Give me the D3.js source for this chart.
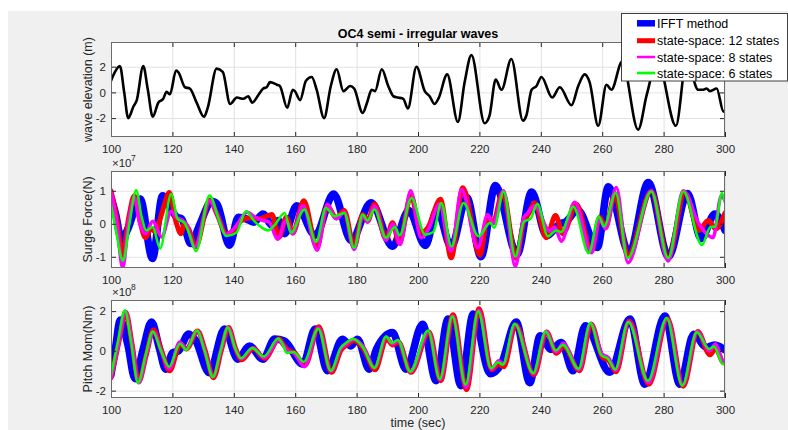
<!DOCTYPE html>
<html>
<head>
<meta charset="utf-8">
<script src="https://cdn.jsdelivr.net/npm/d3@7"></script>
<style>
  html, body { margin: 0; padding: 0; background: #fff; }
  svg { display: block; font-family: "Liberation Sans", Arial, Helvetica, sans-serif; }
  .tick text { fill: #262626; font-size: 11.5px; font-family: "Liberation Sans", Arial, sans-serif; }
  .axis line { stroke: #262626; }
  .grid line { stroke: #e2e2e2; }
  .grid .domain, .axis .domain { display: none; }
  .label { fill: #262626; font-size: 12.5px; }
</style>
</head>
<body>
<div id="chart"></div>
<script>
// time axis and tick labels
const timeTicks = [100, 120, 140, 160, 180, 200, 220, 240, 260, 280, 300];
const waveTicks = [-2, 0, 2];
const surgeTicks = [-1, 0, 1];
const pitchTicks = [-2, 0, 2];
const seriesNames = ["IFFT method", "state-space: 12 states", "state-space: 8 states", "state-space: 6 states"];

// wave elevation (m), [time, value]
const waveElevation = [[100,0.9],[101.3,1.6],[102.9,2.05],[104.3,0],[105.6,-2.0],[107.3,-1.1],[108.4,-0.6],[110.5,2.05],[112.0,0.2],[113.6,-1.9],[115.4,-0.8],[117.0,-0.5],[118.1,0.05],[119.2,-0.15],[121.2,1.7],[122.0,1.55],[124.1,0.4],[125.7,0.3],[127.9,-0.8],[130.3,-1.9],[131.5,-1.2],[134.4,1.85],[136.4,1.6],[138.8,-0.9],[141.0,-0.4],[143.1,-0.5],[144.7,-0.3],[146.0,-0.8],[148.0,-0.2],[149.6,0.3],[150.7,0.4],[151.8,0.8],[154.0,0.6],[155.0,0.5],[157.4,-1.2],[159.2,0.2],[159.9,0.1],[161.6,-0.6],[163.5,0.9],[165.4,1.2],[167.0,0.2],[169.4,-2.0],[171.6,0.5],[173.5,1.8],[175.7,0.1],[177.9,0.5],[179.2,0.3],[182.0,-1.6],[183.4,-0.8],[184.9,0.2],[186.0,0.1],[188.2,1.8],[190.3,0.5],[192.0,-0.3],[193.5,-0.4],[195.2,-0.5],[196.7,-1.25],[199.5,2.0],[202.2,0.1],[203.8,-0.3],[205.4,-0.9],[206.8,-0.4],[209.5,1.4],[213.0,-2.3],[215.2,0.8],[217.4,2.9],[221.7,-2.4],[223.3,-1.8],[225.3,1.0],[227.2,0.2],[230.4,2.6],[234.2,-2.2],[235.3,-1.8],[237.0,0.2],[238.6,0.5],[240.2,1.2],[243.7,-0.4],[246.2,0.4],[250.0,-1.0],[252.2,0.5],[254.3,1.4],[255.9,0.8],[258.7,-2.6],[261.4,0.6],[263.0,0.2],[266.5,2.4],[271.7,-2.9],[274.5,-0.2],[278.0,2.5],[284.0,-2.6],[287.5,2.5],[291.3,0.2],[292.9,0.2],[294.0,0.3],[295.1,0.1],[297.3,0.3],[299.5,-1.5],[300,-1.4]];

// surge force (x1e7 N)
const surgeIFFT = [[100,0.8],[101.5,0.3],[103.5,-0.5],[105.5,-0.15],[109.5,0.75],[113.5,-1.05],[116.8,0.85],[119.5,0.45],[121.5,0.2],[123.0,0.15],[126.0,-0.6],[129.0,0.0],[132.8,0.68],[134.5,0.6],[138.6,-0.65],[141.5,0.2],[144.0,0.15],[146.5,0.05],[149.5,0.3],[152.5,-0.05],[154.5,0.1],[156.5,-0.3],[160.5,0.55],[166.5,-0.35],[172.5,0.9],[178.2,-0.5],[184.7,0.64],[191.7,-0.68],[197.0,0.4],[202.4,-0.66],[206.2,0.42],[210.8,-0.7],[215.9,0.8],[220.5,-1.0],[225.2,1.16],[232.3,-0.92],[237.0,0.96],[241.9,-0.36],[246.2,0.0],[248.0,0.05],[252.0,0.42],[258.4,-0.72],[262.0,1.12],[268.8,-0.88],[275.0,1.25],[281.6,-1.0],[287.8,0.92],[292.2,-0.45],[296.7,0.3],[300,-0.2]];
const surgeSS12 = [[100,1.0],[101.8,0.2],[103.7,-0.95],[105.8,0.2],[107.6,0.85],[109.4,0.1],[111.2,-0.42],[113.0,-0.15],[114.5,-0.25],[116.5,0.3],[119.0,0.95],[121.2,0.05],[122.8,-0.3],[123.9,0.0],[125.5,-0.2],[127.5,-0.7],[132.2,0.72],[134.5,0.3],[137.6,-0.3],[140.0,-0.2],[142.5,0.1],[145.7,0.18],[148.0,0.15],[150.0,0.2],[152.4,0.28],[154.8,-0.4],[157.1,0.2],[159.2,-0.28],[162.8,0.7],[167.0,-0.7],[170.5,0.55],[173.3,0.18],[176.0,0.4],[179.2,-0.7],[182.0,0.28],[183.6,0.08],[185.8,0.6],[189.6,-0.47],[191.7,0.03],[193.9,-0.58],[197.7,0.85],[201.0,-0.27],[203.2,-0.12],[207.3,0.74],[210.8,-1.03],[214.6,1.09],[220.2,-0.95],[222.7,0.2],[224.4,0.03],[227.6,0.95],[232.0,-1.05],[234.5,0.1],[236.0,0.3],[238.0,0.64],[241.8,-0.42],[244.8,0.25],[247.2,-0.3],[251.6,0.59],[256.5,-0.83],[259.2,0.2],[261.1,-0.12],[264.1,0.9],[268.4,-0.98],[276.0,0.99],[281.5,-1.03],[286.9,0.94],[291.5,-0.2],[294.5,0.1],[297.0,-0.15],[300,0.33]];
const surgeSS8 = [[100,1.0],[101.8,0.1],[103.8,-1.33],[105.8,0.1],[107.6,0.8],[109.4,0.0],[111.2,-0.3],[113.6,0.08],[116.5,-0.4],[119.6,0.38],[121.2,0.2],[122.8,0.13],[124.5,0.0],[127.3,-0.7],[132.2,0.7],[134.5,0.3],[137.5,-0.32],[140.5,-0.1],[144.3,0.35],[147.0,0.2],[149.5,0.1],[151.5,0.05],[154.3,-0.47],[157.0,0.1],[159.2,-0.3],[162.5,0.55],[167.2,-0.8],[170.5,0.59],[173.3,0.15],[176.0,0.35],[179.2,-0.78],[182.0,0.25],[183.6,0.05],[185.8,0.54],[189.6,-0.5],[191.7,0.0],[194.2,-0.63],[197.6,1.0],[201.0,-0.42],[203.2,-0.2],[207.0,0.6],[210.8,-0.83],[214.2,1.04],[219.5,-0.73],[222.7,0.28],[224.4,0.0],[227.9,1.0],[231.7,-1.3],[234.5,0.2],[235.5,0.3],[238.0,0.55],[242.9,-0.22],[244.5,-0.1],[246.7,-0.53],[251.0,0.65],[256.5,-0.88],[259.2,0.15],[261.1,-0.15],[264.6,1.1],[268.4,-1.18],[276.0,1.0],[281.5,-1.13],[286.4,1.0],[291.5,0.0],[296.1,-0.42],[298.8,0.85],[300,0.7]];
const surgeSS6 = [[100,0.6],[101.8,-0.3],[103.9,-1.12],[106.0,0.0],[108.2,1.02],[110.0,0.2],[111.5,-0.2],[113.6,-0.1],[116.0,-0.75],[119.6,0.9],[121.7,0.15],[123.9,0.03],[125.5,-0.3],[127.7,-0.83],[132.1,0.86],[135.3,0.08],[137.5,-0.37],[140.8,-0.27],[144.0,0.38],[146.5,0.1],[148.9,-0.1],[151.2,-0.2],[153.2,-0.05],[156.6,0.33],[158.6,-0.27],[163.0,0.43],[166.8,-0.55],[170.0,0.48],[172.8,0.23],[176.0,0.33],[179.2,-0.73],[182.0,0.28],[183.6,0.1],[185.8,0.43],[189.6,-0.42],[192.5,-0.1],[194.0,-0.35],[197.9,0.78],[202.3,-0.33],[205.0,-0.25],[207.6,0.63],[210.9,-0.69],[214.8,0.63],[219.7,-0.38],[223.5,0.03],[224.8,-0.12],[227.9,0.98],[231.7,-0.99],[234.5,0.06],[236.7,0.16],[238.9,0.6],[242.3,-0.38],[245.0,-0.2],[246.6,-0.25],[250.6,0.52],[255.6,-0.89],[258.9,0.22],[260.6,-0.08],[264.4,0.93],[268.3,-1.04],[276.0,0.98],[281.5,-1.04],[286.4,0.98],[292.5,-0.64],[295.2,-0.1],[296.8,-0.08],[299.0,0.93],[300,0.63]];

// pitch moment (x1e8 Nm)
const pitchIFFT = [[100,-1.2],[101.5,0.2],[103.0,1.55],[105.5,0.3],[107.8,-1.4],[110.5,0.1],[113.2,1.45],[115.8,0.1],[117.8,-0.92],[120.0,-0.1],[122.0,0.0],[125.3,0.85],[127.5,0.55],[132.0,-1.1],[137.0,1.1],[141.3,-0.42],[145.1,0.25],[149.5,-0.42],[153.3,0.6],[156.5,0.5],[162.5,-0.67],[166.5,1.1],[170.5,-1.0],[175.4,0.59],[178.0,0.25],[180.3,0.59],[184.1,-0.92],[186.5,0.1],[191.7,0.92],[196.1,-0.92],[201.5,1.34],[205.9,-1.5],[209.8,1.6],[214.0,-1.75],[218.0,1.85],[223.5,-1.15],[227.0,-0.7],[232.0,1.45],[236.4,-1.6],[239.8,0.76],[243.4,0.08],[246.7,0.42],[250.5,-1.0],[254.5,1.26],[262.5,-1.08],[269.0,1.6],[273.9,-1.68],[280.4,1.76],[285.3,-1.68],[289.8,0.84],[294.0,0.17],[296.5,0.3],[300,0.05]];
const pitchSS12 = [[100,-1.35],[102.5,0.4],[104.8,1.95],[106.8,0.4],[109.0,-1.55],[111.5,-0.2],[113.8,1.05],[116.5,0.0],[119.1,-1.0],[122.6,0.35],[124.6,0.1],[128.2,1.0],[130.7,0.0],[133.4,-1.35],[135.9,0.0],[138.3,1.18],[140.5,0.15],[142.6,-0.45],[146.3,0.12],[150.1,-0.38],[154.8,0.6],[156.0,0.35],[157.6,0.05],[159.8,-0.1],[163.2,-0.72],[167.7,1.22],[171.8,-1.08],[175.0,0.05],[176.8,0.3],[179.1,0.52],[182.3,0.1],[186.0,-0.95],[189.8,0.62],[191.7,0.3],[193.6,0.45],[197.7,-1.08],[203.6,0.95],[207.4,-1.5],[211.4,1.82],[215.8,-1.95],[219.9,2.12],[224.0,-0.95],[226.3,-0.65],[227.9,-0.8],[231.8,1.3],[237.8,-1.2],[241.9,0.95],[245.1,-0.12],[247.4,0.25],[252.6,-1.0],[256.4,1.35],[260.0,-0.3],[262.2,-0.5],[264.5,-1.05],[268.8,1.5],[275.2,-1.68],[281.3,1.62],[286.4,-1.78],[291.1,0.98],[295.1,-0.2],[296.9,0.12],[299.6,-0.6],[300,-0.6]];
const pitchSS8 = [[100,-1.4],[102.5,0.35],[104.7,2.0],[106.8,0.4],[109.0,-1.6],[111.5,-0.2],[113.8,0.95],[116.4,0.0],[119.0,-0.9],[122.4,0.45],[124.5,0.1],[128.1,1.0],[130.6,0.0],[133.3,-1.3],[135.8,0.0],[138.2,1.18],[140.4,0.15],[142.5,-0.4],[146.2,0.15],[150.0,-0.35],[154.7,0.55],[156.0,0.32],[157.5,0.0],[159.6,-0.1],[163.0,-0.8],[167.6,1.15],[171.7,-1.02],[174.9,0.1],[176.7,0.35],[179.0,0.58],[182.2,0.2],[185.9,-0.85],[189.7,0.7],[191.6,0.35],[193.5,0.5],[197.6,-1.05],[203.5,0.95],[207.3,-1.45],[211.3,1.75],[215.7,-1.85],[219.8,2.05],[223.9,-0.92],[226.3,-0.5],[227.8,-0.65],[231.7,1.32],[237.7,-1.15],[241.8,0.98],[245.0,-0.05],[247.3,0.38],[252.5,-0.95],[256.3,1.38],[259.9,-0.15],[262.1,-0.35],[264.4,-0.98],[268.7,1.47],[275.1,-1.6],[281.2,1.62],[286.3,-1.72],[291.0,0.96],[295.0,0.0],[296.9,0.35],[299.5,-0.5],[300,-0.5]];
const pitchSS6 = [[100,-1.25],[102.3,0.5],[104.5,2.05],[106.5,0.5],[108.8,-1.6],[111.3,-0.2],[113.6,0.98],[116.3,0.0],[118.9,-0.8],[122.5,0.36],[124.5,0.05],[128.0,1.02],[130.5,0.0],[133.2,-1.31],[135.7,0.0],[138.1,1.18],[140.3,0.2],[142.3,-0.37],[146.0,0.14],[149.8,-0.28],[154.5,0.62],[155.7,0.4],[157.3,-0.1],[159.5,-0.05],[162.8,-0.55],[167.5,1.12],[171.6,-1.0],[174.8,0.15],[176.5,0.4],[178.9,0.6],[182.0,0.2],[185.8,-0.86],[189.6,0.72],[191.5,0.4],[193.4,0.55],[197.5,-1.05],[203.3,1.02],[207.1,-1.42],[211.2,1.74],[215.5,-1.7],[219.6,2.0],[223.8,-0.87],[226.1,-0.57],[227.6,-0.7],[231.5,1.36],[237.5,-1.12],[241.6,0.98],[244.8,0.02],[247.2,0.3],[252.3,-0.9],[256.1,1.4],[259.7,-0.22],[261.9,-0.4],[264.2,-0.93],[268.5,1.45],[274.9,-1.5],[281.0,1.65],[286.1,-1.75],[290.8,0.94],[294.8,0.1],[296.4,0.22],[299.4,-0.67],[300,-0.6]];

const colors = ["#0000ff", "#ff0000", "#ff00ff", "#00ff00"];
const widths = [7.5, 5, 3.5, 2.5];

const W = 788, H = 430;
const svg = d3.select("#chart").append("svg")
    .attr("width", W)
    .attr("height", H);

// figure background
svg.append("rect").attr("x", 8).attr("y", 11).attr("width", W - 8).attr("height", H - 11).attr("fill", "#f0f0f0");

const x = d3.scaleLinear().domain([100, 300]).range([111, 725]);

const panels = [
    { top: 42, bottom: 137, yDomain: [-3.47, 3.92], ticks: waveTicks, label: "wave elevation (m)",
      series: [{ data: waveElevation, color: "#000000", width: 2.6 }] },
    { top: 171, bottom: 268, yDomain: [-1.34, 1.6], ticks: surgeTicks, label: "Surge Force(N)", exp: "7",
      series: [surgeIFFT, surgeSS12, surgeSS8, surgeSS6].map((d, i) => ({ data: d, color: colors[i], width: widths[i] })) },
    { top: 300, bottom: 398, yDomain: [-2.37, 2.56], ticks: pitchTicks, label: "Pitch Mom(Nm)", exp: "8",
      series: [pitchIFFT, pitchSS12, pitchSS8, pitchSS6].map((d, i) => ({ data: d, color: colors[i], width: widths[i] })) }
];

const plotW = x(300) - x(100);

panels.forEach((p, i) => {
    const y = d3.scaleLinear().domain(p.yDomain).range([p.bottom, p.top]);
    const h = p.bottom - p.top;
    const g = svg.append("g");

    g.append("rect")
        .attr("x", x(100)).attr("y", p.top)
        .attr("width", plotW).attr("height", h)
        .attr("fill", "#fff");

    // grid
    g.append("g").attr("class", "grid")
        .attr("transform", `translate(0,${p.bottom})`)
        .call(d3.axisBottom(x).tickValues(timeTicks).tickSize(-h).tickFormat(""));
    g.append("g").attr("class", "grid")
        .attr("transform", `translate(${x(100)},0)`)
        .call(d3.axisLeft(y).tickValues(p.ticks).tickSize(-plotW).tickFormat(""));

    svg.append("clipPath").attr("id", "clip" + i)
        .append("rect")
        .attr("x", x(100)).attr("y", p.top)
        .attr("width", plotW).attr("height", h);

    const line = d3.line()
        .x(d => x(d[0]))
        .y(d => y(d[1]))
        .curve(d3.curveMonotoneX);

    p.series.forEach(s => {
        g.append("path")
            .datum(s.data)
            .attr("clip-path", `url(#clip${i})`)
            .attr("fill", "none")
            .attr("stroke", s.color)
            .attr("stroke-width", s.width)
            .attr("stroke-linejoin", "round")
            .attr("stroke-linecap", "round")
            .attr("d", line);
    });

    // axes, ticks pointing inward on all four sides
    g.append("g").attr("class", "axis")
        .attr("transform", `translate(0,${p.bottom})`)
        .call(d3.axisBottom(x).tickValues(timeTicks).tickSize(-5).tickPadding(8).tickFormat(d => String(d)));
    g.append("g").attr("class", "axis")
        .attr("transform", `translate(0,${p.top})`)
        .call(d3.axisTop(x).tickValues(timeTicks).tickSize(-5).tickFormat(""));
    g.append("g").attr("class", "axis")
        .attr("transform", `translate(${x(100)},0)`)
        .call(d3.axisLeft(y).tickValues(p.ticks).tickSize(-5).tickPadding(5).tickFormat(d => String(d)));
    g.append("g").attr("class", "axis")
        .attr("transform", `translate(${x(300)},0)`)
        .call(d3.axisRight(y).tickValues(p.ticks).tickSize(-5).tickFormat(""));

    g.append("rect")
        .attr("x", x(100) + 0.5).attr("y", p.top + 0.5)
        .attr("width", plotW - 1).attr("height", h - 1)
        .attr("fill", "none")
        .attr("stroke", "#6b6b6b");

    g.append("text")
        .attr("class", "label")
        .attr("transform", `translate(88,${(p.top + p.bottom) / 2}) rotate(-90)`)
        .attr("text-anchor", "middle")
        .attr("dominant-baseline", "central")
        .text(p.label);

    if (p.exp) {
        g.append("text").attr("class", "label")
            .attr("x", 112).attr("y", p.top - 4)
            .style("font-size", "11.5px")
            .text("\u00d710");
        g.append("text").attr("class", "label")
            .attr("x", 131).attr("y", p.top - 10)
            .style("font-size", "8.5px")
            .text(p.exp);
    }
});

svg.append("text")
    .attr("x", (x(100) + x(300)) / 2).attr("y", 37.5)
    .attr("text-anchor", "middle")
    .attr("fill", "#000")
    .style("font-size", "12.5px")
    .style("font-weight", "bold")
    .text("OC4 semi - irregular waves");

svg.append("text")
    .attr("class", "label")
    .attr("x", (x(100) + x(300)) / 2).attr("y", 427)
    .attr("text-anchor", "middle")
    .text("time (sec)");

// legend
const legend = svg.append("g");
legend.append("rect")
    .attr("x", 621.5).attr("y", 13.5)
    .attr("width", 166).attr("height", 67.5)
    .attr("fill", "#fff")
    .attr("stroke", "#404040");

const legendY = [23.3, 40.7, 57, 73];
const legendW = [6.5, 5, 2.5, 2.7];
seriesNames.forEach((name, i) => {
    legend.append("line")
        .attr("x1", 637).attr("x2", 655)
        .attr("y1", legendY[i]).attr("y2", legendY[i])
        .attr("stroke", colors[i])
        .attr("stroke-width", legendW[i]);
    legend.append("text")
        .attr("x", 657).attr("y", legendY[i] + 4.5)
        .attr("fill", "#000")
        .style("font-size", "12.5px")
        .text(name);
});
</script>
</body>
</html>
